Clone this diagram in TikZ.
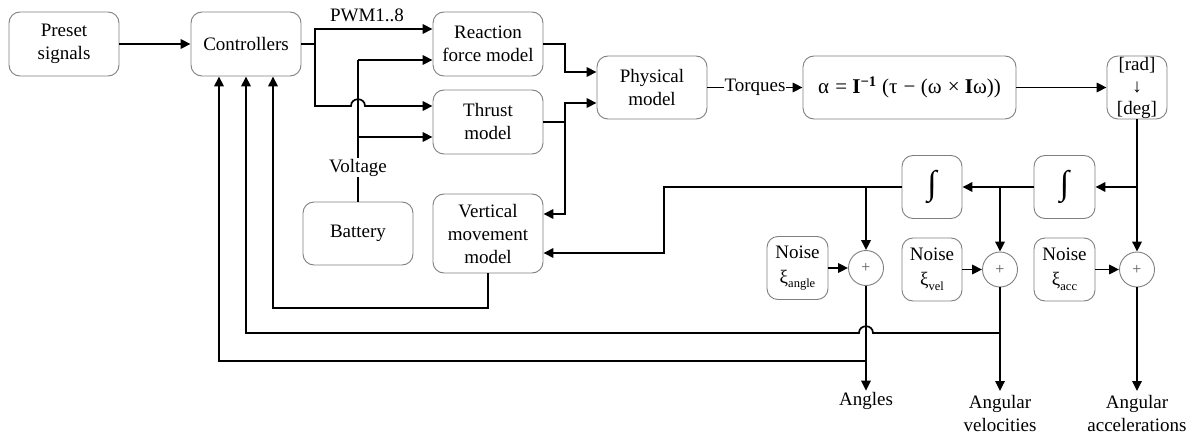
\documentclass[tikz,border=0pt]{standalone}
\usepackage{fontspec}
\setmainfont{Liberation Serif}
\usetikzlibrary{arrows.meta,calc}
\definecolor{boxline}{HTML}{7F7F7F}
\begin{document}
\begin{tikzpicture}[x=1pt,y=-1pt,
  font=\fontsize{19}{23}\selectfont,
  blk/.style={draw=boxline, line width=0.9pt, rounded corners=11pt, align=center, inner sep=0pt},
  sumnode/.style={circle, draw=boxline, line width=0.9pt, minimum size=35pt, inner sep=0pt,
                  font=\fontsize{16}{16}\selectfont, text=black!65},
  wire/.style={line width=1.7pt, black},
  arr/.style={wire, -{Triangle[length=10pt,width=9.5pt]}},
  lbl/.style={inner sep=1pt, align=center},
]
\useasboundingbox (0,0) rectangle (1203,436);

% --- blocks ---
\node[blk, minimum width=110pt, minimum height=64pt] (preset) at (64,44) {Preset\\signals};
\node[blk, minimum width=110pt, minimum height=64pt] (ctrl)   at (246,44) {Controllers};
\node[blk, minimum width=110pt, minimum height=64pt] (react)  at (488,44) {Reaction\\force model};
\node[blk, minimum width=110pt, minimum height=64pt] (thrust) at (488,122) {Thrust\\model};
\node[blk, minimum width=110pt, minimum height=63pt] (batt)   at (358,233.5) {Battery};
\node[blk, minimum width=110pt, minimum height=79pt] (vert)   at (488,233.5) {Vertical\\movement\\model};
\node[blk, minimum width=110pt, minimum height=63pt] (phys)   at (652,87.5) {Physical\\model};
\node[blk, minimum width=213pt, minimum height=63pt, font=\fontsize{21}{23}\selectfont] (eq) at (909.5,87.5)
  {α\kern1pt{} = \textbf{I}\textsuperscript{\textbf{−1}} (τ\kern1pt{} − (ω\kern1pt{} × \textbf{I}ω))};
\node[blk, minimum width=60pt, minimum height=63pt, font=\fontsize{19}{22}\selectfont] (conv) at (1137,87.5) {{[rad]}\\{↓}\\{[deg]}};
\node[blk, minimum width=60pt, minimum height=63pt] (int1) at (932,187) {\fontsize{34}{34}\selectfont ∫};
\node[blk, minimum width=61pt, minimum height=63pt] (int2) at (1064.5,187) {\fontsize{34}{34}\selectfont ∫};

\newcommand{\noisesub}[1]{ξ\raisebox{-0.25em}{\fontsize{12.5}{12.5}\selectfont #1}}
\node[blk, minimum width=61pt, minimum height=63pt] (noise1) at (797.5,268) {Noise\\[2pt]\noisesub{angle}};
\node[blk, minimum width=60pt, minimum height=63pt] (noise2) at (932,269.5) {Noise\\[2pt]\noisesub{vel}};
\node[blk, minimum width=61pt, minimum height=63pt] (noise3) at (1064.5,269.5) {Noise\\[2pt]\noisesub{acc}};

\node[sumnode] (sum1) at (866,268) {+};
\node[sumnode] (sum2) at (1000,269.5) {+};
\node[sumnode] (sum3) at (1137,269.5) {+};

% --- labels ---
\node[lbl, anchor=base] (pwm)  at (367,22) {PWM1..8};
\node[lbl, anchor=base] (volt) at (358,172) {Voltage};
\node[lbl, anchor=base] (angles) at (866,405) {Angles};
\node[lbl, anchor=north, inner sep=0pt] (angvel) at (1000,395) {Angular\\velocities};
\node[lbl, anchor=north, inner sep=0pt] (angacc) at (1137,395) {Angular\\accelerations};

% --- junction points ---
\coordinate (sp) at (315,44);
\coordinate (vt) at (358,60);
\coordinate (vm) at (358,137);
\coordinate (tj) at (565,122);
\coordinate (cj) at (1137,187);
\coordinate (vj) at (1000,187);
\coordinate (aj) at (866,187);
\coordinate (fa) at (866,361);
\coordinate (fv) at (1000,333);

% --- connectors ---
\draw[arr] (preset.east) -- (ctrl.west);
\draw[wire] (ctrl.east) -- (sp);
\draw[arr] (sp) -- (315,29) -- (react.west |- 0,29);
\draw[arr] (sp) -- (315,106) -- (351,106) .. controls (351,97) and (365,97) .. (365,106) -- (thrust.west |- 0,106);

\draw[wire] (batt.north) -- (volt.south);
\draw[wire] (volt.north) -- (vt);
\draw[arr] (vt) -- (react.west |- vt);
\draw[arr] (vm) -- (thrust.west |- vm);

\draw[arr] (react.east) -- (565,44) -- (565,72) -- (phys.west |- 0,72);
\draw[wire] (thrust.east) -- (tj);
\draw[arr] (tj) -- (565,103) -- (phys.west |- 0,103);
\draw[arr] (tj) -- (565,214) -- (vert.east |- 0,214);

\draw[arr] (phys.east) -- node[fill=white, inner sep=1pt] {Torques} (eq.west);
\draw[arr] (eq.east) -- (conv.west);

\draw[wire] (conv.south) -- (cj);
\draw[arr] (cj) -- (int2.east);
\draw[arr] (cj) -- (sum3.north);
\draw[arr] (int2.west) -- (int1.east);
\draw[arr] (vj) -- (sum2.north);
\draw[arr] (int1.west) -- (664,187) -- (664,253) -- (vert.east |- 0,253);
\draw[arr] (aj) -- (sum1.north);

\draw[arr] (noise1.east) -- (sum1.west);
\draw[arr] (noise2.east) -- (sum2.west);
\draw[arr] (noise3.east) -- (sum3.west);

\draw[arr] (sum1.south) -- (angles.north);
\draw[arr] (sum2.south) -- ($(angvel.north)+(0,-4)$);
\draw[arr] (sum3.south) -- ($(angacc.north)+(0,-4)$);

\draw[arr] (fa) -- (219,361) -- (219,0 |- ctrl.south);
\draw[arr] (fv) -- (873,333) .. controls (873,324) and (859,324) .. (859,333) -- (246,333) -- (246,0 |- ctrl.south);
\draw[arr] (vert.south) -- (488,308) -- (273,308) -- (273,0 |- ctrl.south);
\end{tikzpicture}
\end{document}
